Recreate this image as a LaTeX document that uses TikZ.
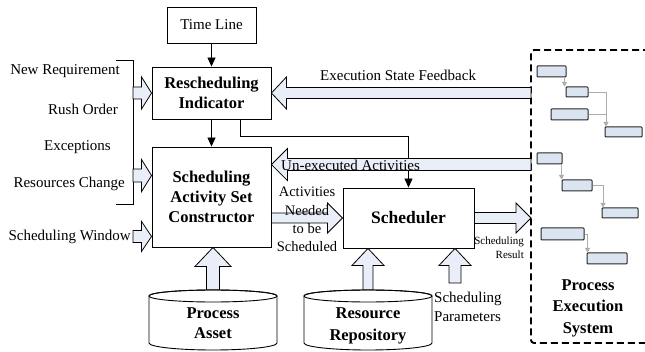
\documentclass[tikz,border=0pt]{standalone}
\usepackage{fontspec}
\setmainfont{Liberation Serif}
\usetikzlibrary{arrows.meta,calc}

\definecolor{arrowfill}{RGB}{233,238,248}
\definecolor{barfill}{RGB}{219,229,241}
\definecolor{barline}{RGB}{38,38,38}
\definecolor{linkgray}{RGB}{172,172,172}

\tikzset{
  box/.style={draw, line width=0.9pt, fill=white, inner sep=0pt, align=center},
  boxtext/.style={font=\fontsize{16.5}{20}\selectfont\bfseries},
  lbl/.style={font=\fontsize{15}{18}\selectfont, inner sep=0pt},
  flow/.style={line width=0.9pt, -{Triangle[length=9pt,width=8pt]}},
  link/.style={draw=linkgray, line width=0.8pt},
  linkarrow/.style={link, -{Triangle[length=4.5pt,width=5pt]}},
  bar/.style={draw=barline, fill=barfill, line width=1pt, rounded corners=0.8pt,
              inner sep=0pt},
  % block arrow from start to target: {head length}{head half width}{shaft half width}
  barrow/.style n args={3}{fill=arrowfill, draw, line width=0.8pt, line join=miter,
    /utils/exec={\def\blklen{#1}\def\blkhead{#2}\def\blkshaft{#3}},
    to path={let \p1=(\tikztostart), \p2=(\tikztotarget),
      \n1={veclen(\x2-\x1,\y2-\y1)}, \n2={(\x2-\x1)/\n1}, \n3={(\y2-\y1)/\n1},
      \p3=({\x2-(\n2)*\blklen},{\y2-(\n3)*\blklen}) in
      ({\x1-(\n3)*\blkshaft},{\y1+(\n2)*\blkshaft})
      -- ({\x3-(\n3)*\blkshaft},{\y3+(\n2)*\blkshaft})
      -- ({\x3-(\n3)*\blkhead},{\y3+(\n2)*\blkhead})
      -- (\p2)
      -- ({\x3+(\n3)*\blkhead},{\y3-(\n2)*\blkhead})
      -- ({\x3+(\n3)*\blkshaft},{\y3-(\n2)*\blkshaft})
      -- ({\x1+(\n3)*\blkshaft},{\y1-(\n2)*\blkshaft}) -- cycle}},
}

\begin{document}
\begin{tikzpicture}[x=1pt, y=-1pt]
\useasboundingbox (0,0) rectangle (645,352);

% main blocks
\node[box, minimum width=89pt, minimum height=36pt, lbl] (TL) at (211.5,25) {Time Line};
\node[box, boxtext, minimum width=119pt, minimum height=52pt] (RI) at (211.5,93)
  {Rescheduling\\Indicator};
\node[box, boxtext, minimum width=119pt, minimum height=100pt] (SASC) at (211.5,197)
  {Scheduling\\Activity Set\\Constructor};
\node[box, minimum width=131pt, minimum height=60pt,
      font=\fontsize{17.5}{20}\selectfont\bfseries] (SCH) at (408.5,218) {Scheduler};

% reference points
\coordinate (dbl) at (531,50);
\coordinate (brk) at (133,60);
\path (SASC.north east) ++(0,18) coordinate (ueT);
\path (SASC.north west) ++(0,29) coordinate (sa1);
\path (SASC.south west) ++(0,-11) coordinate (sa2);
\coordinate (pa) at (213,290);
\coordinate (rr) at (368,290);
\coordinate (sp) at (455,283);

% process execution system frame
\draw[line width=1.9pt, dash pattern=on 7pt off 4pt, rounded corners=3pt]
  (650,50) -- (dbl) -- (531,343) -- (650,343);

% input bracket
\draw[line width=0.9pt] (116,60) -- (brk) -- (133,204) -- (116,204);

% black control arrows
\draw[flow] (TL.south) -- (RI.north);
\draw[flow] (RI.south) -- (SASC.north);
\draw[flow] ([xshift=-31pt]RI.south east) -- ++(0,17) -| (SCH.north);

% block arrows
\draw[barrow={10pt}{16pt}{6pt}] (RI.west -| brk) to (RI.west);
\draw[barrow={10pt}{16pt}{6.5pt}] (sa1 -| brk) to (sa1);
\draw[barrow={10pt}{15pt}{6pt}] (sa2 -| brk) to (sa2);
\draw[barrow={15pt}{16pt}{5.5pt}] (RI.east -| dbl) to (RI.east);
\draw[barrow={16pt}{16pt}{6pt}] (ueT -| dbl) to (ueT);
\draw[barrow={15pt}{15pt}{5pt}] (SCH.west -| SASC.east) to (SCH.west);
\draw[barrow={15pt}{15pt}{5.5pt}] (SCH.east) to (SCH.east -| dbl);
\draw[barrow={19pt}{18pt}{6.5pt}] (pa) to (pa |- SASC.south);
\draw[barrow={17pt}{16pt}{5pt}] (rr) to (rr |- SCH.south);
\draw[barrow={17pt}{16pt}{6pt}] (sp) to (sp |- SCH.south);

% data stores
\filldraw[fill=white, line width=0.9pt] (149,296) -- (149,343)
  arc[start angle=180, end angle=0, x radius=64, y radius=7]
  -- (277,296) arc[start angle=0, end angle=-180, x radius=64, y radius=6] -- cycle;
\draw[line width=0.9pt] (213,296) ellipse [x radius=64, y radius=6];
\node[boxtext, align=center, inner sep=0pt] (PA) at (213,323) {Process\\Asset};

\filldraw[fill=white, line width=0.9pt] (304,296) -- (304,343)
  arc[start angle=180, end angle=0, x radius=64, y radius=7]
  -- (432,296) arc[start angle=0, end angle=-180, x radius=64, y radius=6] -- cycle;
\draw[line width=0.9pt] (368,296) ellipse [x radius=64, y radius=6];
\node[boxtext, align=center, inner sep=0pt, font=\fontsize{16.5}{22}\selectfont\bfseries]
  (RR) at (368,326) {Resource\\Repository};

% labels
\node[lbl, anchor=east] (l1) at (120,71) {New Requirement};
\node[lbl, anchor=east] (l2) at (118,109) {Rush Order};
\node[lbl, anchor=east] (l3) at (111,147) {Exceptions};
\node[lbl, anchor=east] (l4) at (125,184) {Resources Change};
\node[lbl, anchor=east] (l5) at (131,237) {Scheduling Window};
\node[lbl, anchor=west] (l6) at (320,75) {Execution State Feedback};
\node[lbl, anchor=west] (l7) at (281,165) {Un-executed Activities};
\node[lbl, align=center, font=\fontsize{14.5}{18.3}\selectfont] (l8) at (307,219.5)
  {Activities\\Needed\\to be\\Scheduled};
\node[lbl, align=right, anchor=east, font=\fontsize{11}{14}\selectfont] (l9) at (524,248)
  {Scheduling\\Result};
\node[lbl, align=left, anchor=west, font=\fontsize{15}{19}\selectfont] (l10) at (434,306.5)
  {Scheduling\\Parameters};
\node[boxtext, align=center, inner sep=0pt, font=\fontsize{16.5}{21.5}\selectfont\bfseries]
  (PES) at (588,308) {Process\\Execution\\System};

% activity bars of the running process
\node[bar, minimum width=29pt, minimum height=11pt] (g1) at (551.5,71.5) {};
\node[bar, minimum width=22pt, minimum height=10pt] (g2) at (577,92) {};
\node[bar, minimum width=37pt, minimum height=11pt] (g3) at (569.5,114.5) {};
\node[bar, minimum width=37pt, minimum height=10pt] (g4) at (623.5,132) {};
\node[bar, minimum width=25pt, minimum height=11pt] (g5) at (549.5,158.5) {};
\node[bar, minimum width=30pt, minimum height=11pt] (g6) at (577,185.5) {};
\node[bar, minimum width=36pt, minimum height=10pt] (g7) at (620,213) {};
\node[bar, minimum width=43pt, minimum height=12pt] (g8) at (562.5,234) {};
\node[bar, minimum width=40pt, minimum height=11pt] (g9) at (607,258.5) {};

\draw[linkarrow] ([xshift=-1pt]g2.north west |- g1.south) -- ([xshift=-1pt]g2.north west);
\draw[linkarrow] (g2.east) -| ([xshift=1.5pt]g4.north west);
\draw[link] (g3.east) -- ([xshift=1.5pt]g3.east -| g4.north west);
\draw[linkarrow] (g6.north west |- g5.south) -- (g6.north west);
\draw[linkarrow] (g6.east) -| ([xshift=1.5pt]g7.north west);
\draw[linkarrow] (g8.east) -| ([xshift=1pt]g9.north west);
\end{tikzpicture}
\end{document}
